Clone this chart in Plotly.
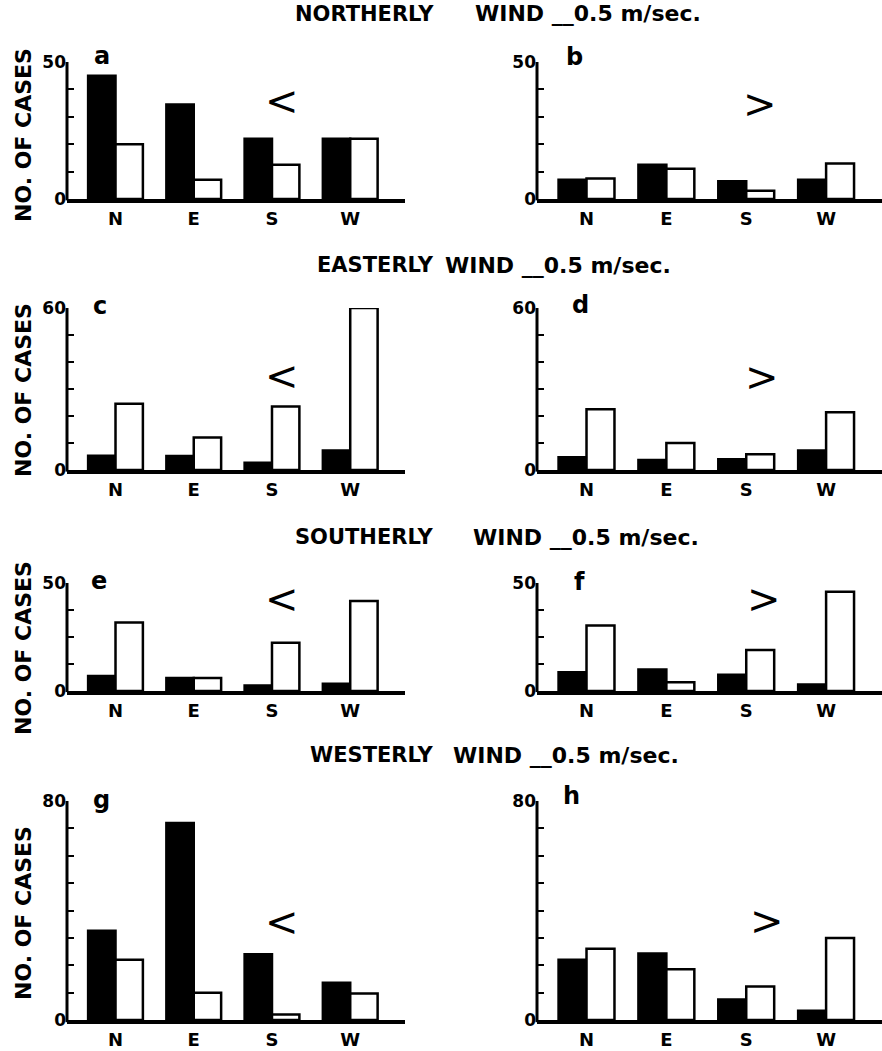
import plotly.graph_objects as go

# ---------------- data ----------------
directions = ["N", "E", "S", "W"]
panel_letters = ["a", "b", "c", "d", "e", "f", "g", "h"]
wind_titles = ["NORTHERLY", "EASTERLY", "SOUTHERLY", "WESTERLY"]
speed_label = "WIND __0.5 m/sec."
y_label = "NO. OF CASES"
arrows = ["<", ">"]

# filled (black) and open (white) bars for each panel, N E S W
a_filled = [45, 34.5, 22, 22]
a_open = [20, 7, 12.5, 22]
b_filled = [7, 12.5, 6.5, 7]
b_open = [7.5, 11, 3, 13]

c_filled = [5.3, 5.2, 2.7, 7.2]
c_open = [24.5, 12, 23.5, 60]
d_filled = [4.7, 3.7, 4, 7.2]
d_open = [22.5, 10, 5.8, 21.4]

e_filled = [7, 6, 2.6, 3.3]
e_open = [31.7, 6, 22.3, 41.7]
f_filled = [8.7, 10, 7.5, 3]
f_open = [30.3, 4, 19, 46]

g_filled = [32.6, 72, 24, 13.6]
g_open = [22, 10, 2, 9.7]
h_filled = [22, 24.3, 7.5, 3.4]
h_open = [26, 18.5, 12.2, 30]

filled = [a_filled, b_filled, c_filled, d_filled, e_filled, f_filled, g_filled, h_filled]
opened = [a_open, b_open, c_open, d_open, e_open, f_open, g_open, h_open]

row_max = [50, 60, 50, 80]
row_step = [10, 10, 12.5, 10]

# ---------------- layout geometry (screen pixels) ----------------
W, H = 882, 1051
col_x = [(67, 405), (537, 882)]
row_y = [(62, 199), (308, 470), (583, 691), (801, 1020)]
title_y = [14, 265, 537, 755]
wind_x = [473, 443, 471, 451]
ylab_y = [135, 390, 648, 913]
letter_pos = [(102, 56), (574, 57), (100, 306), (580, 305),
              (99, 581), (579, 582), (101, 800), (571, 796)]
arrow_pos = [(282, 101), (760, 104), (282, 376), (762, 377),
             (282, 599), (764, 599), (282, 922), (767, 921)]

FONT = "DejaVu Sans"


def px(x):
    return min(1.0, max(0.0, x / W))


def py(y):
    return min(1.0, max(0.0, 1 - y / H))


fig = go.Figure()
layout = dict(
    width=W, height=H,
    margin=dict(l=0, r=0, t=0, b=0, pad=0, autoexpand=False),
    paper_bgcolor="white", plot_bgcolor="rgba(0,0,0,0)",
    showlegend=False, barmode="group", bargap=0.30, bargroupgap=0,
)
annotations = []
shapes = []

for i in range(8):
    r, c = divmod(i, 2)
    n = i + 1
    xa = "x" if n == 1 else f"x{n}"
    ya = "y" if n == 1 else f"y{n}"
    fig.add_trace(go.Bar(x=list(range(4)), y=filled[i], xaxis=xa, yaxis=ya,
                         marker=dict(color="black", line=dict(color="black", width=2.5)),
                         offsetgroup="f", cliponaxis=False))
    fig.add_trace(go.Bar(x=list(range(4)), y=opened[i], xaxis=xa, yaxis=ya,
                         marker=dict(color="white", line=dict(color="black", width=2.5)),
                         offsetgroup="o", cliponaxis=False))
    x0, x1 = col_x[c]
    y0, y1 = row_y[r]
    ymax = row_max[r]
    step = row_step[r]
    nt = int(round(ymax / step))
    tv = [k * step for k in range(nt + 1)]
    tt = ["0"] + [""] * (nt - 1) + [str(ymax)]
    key = "" if n == 1 else str(n)
    layout["xaxis" + key] = dict(
        domain=[px(x0), px(x1)], anchor=ya, range=[-0.62, 3.70], automargin=False,
        showgrid=False, zeroline=False, showline=True, linecolor="black", linewidth=4,
        tickmode="array", tickvals=[0, 1, 2, 3], ticktext=directions, ticks="",
        tickfont=dict(family=FONT, size=18, color="black", weight="bold"),
        fixedrange=True,
    )
    layout["yaxis" + key] = dict(
        domain=[py(y1), py(y0)], anchor=xa, range=[0, ymax], automargin=False,
        showgrid=False, zeroline=False, showline=False,
        tickmode="array", tickvals=tv, ticktext=tt, ticks="inside", ticklen=7,
        tickwidth=2, tickcolor="black",
        tickfont=dict(family=FONT, size=17, color="black", weight="bold"),
        fixedrange=True,
    )
    # vertical axis line along the left edge of the panel
    shapes.append(dict(type="line", xref=f"{xa} domain", yref=f"{ya} domain",
                       x0=0, x1=0, y0=-0.01, y1=1, layer="above",
                       line=dict(color="black", width=3)))
    lx, ly = letter_pos[i]
    annotations.append(dict(text=panel_letters[i], x=px(lx), y=py(ly), xref="paper", yref="paper",
                            showarrow=False, xanchor="center", yanchor="middle",
                            font=dict(family=FONT, size=24, color="black", weight="bold")))
    ax_, ay_ = arrow_pos[i]
    annotations.append(dict(text=arrows[c], x=px(ax_), y=py(ay_), xref="paper", yref="paper",
                            showarrow=False, xanchor="center", yanchor="middle",
                            font=dict(family=FONT, size=40, color="black")))

for r in range(4):
    annotations.append(dict(text=wind_titles[r], x=px(436), y=py(title_y[r]), xref="paper", yref="paper",
                            showarrow=False, xanchor="right", yanchor="middle",
                            font=dict(family=FONT, size=21, color="black", weight="bold")))
    annotations.append(dict(text=speed_label, x=px(wind_x[r]), y=py(title_y[r]), xref="paper", yref="paper",
                            showarrow=False, xanchor="left", yanchor="middle",
                            font=dict(family=FONT, size=22, color="black", weight="bold")))
    annotations.append(dict(text=y_label, x=px(23), y=py(ylab_y[r]), xref="paper", yref="paper",
                            showarrow=False, xanchor="center", yanchor="middle", textangle=-90,
                            font=dict(family=FONT, size=22, color="black", weight="bold")))

layout["annotations"] = annotations
layout["shapes"] = shapes
fig.update_layout(**layout)
fig.write_html(
    "out.html",
    config={"displayModeBar": False, "staticPlot": True},
    post_script="document.body.style.margin='0';document.body.style.overflow='hidden';",
)
